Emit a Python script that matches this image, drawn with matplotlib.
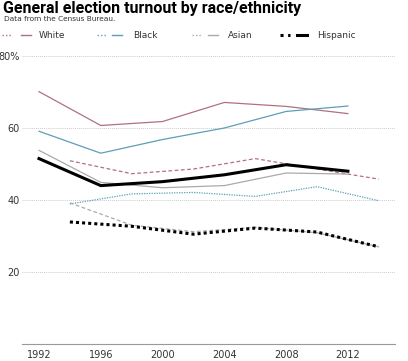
import matplotlib.pyplot as plt
from matplotlib.lines import Line2D

pres_years = [1992, 1996, 2000, 2004, 2008, 2012]
mid_years = [1994, 1998, 2002, 2006, 2010, 2014]

groups = ['White', 'Black', 'Asian', 'Hispanic']
colors = ['#b07080', '#5b9fb8', '#aaaaaa', '#000000']

pres = {
    'White': [70.1, 60.7, 61.8, 67.1, 66.0, 64.0],
    'Black': [59.1, 53.0, 56.8, 60.0, 64.6, 66.1],
    'Asian': [53.8, 44.9, 43.4, 44.0, 47.5, 47.2],
    'Hispanic': [51.5, 44.0, 45.1, 47.0, 49.8, 48.0],
}
mid = {
    'White': [50.9, 47.3, 48.6, 51.5, 48.6, 45.8],
    'Black': [38.9, 41.7, 42.1, 41.0, 43.7, 39.8],
    'Asian': [39.2, 33.0, 31.2, 32.4, 30.9, 27.0],
    'Hispanic': [33.9, 32.7, 30.5, 32.2, 31.1, 27.0],
}

yticks = [20, 40, 60, 80]
ylabels = ['20', '40', '60', '80%']
xticks = [1992, 1996, 2000, 2004, 2008, 2012]

fig = plt.figure(figsize=(4.08, 3.61), dpi=100)
ax = fig.add_axes([22/408, 17/361, 373/408, 288/361])

for g, c in zip(groups, colors):
    lw = 2.2 if g == 'Hispanic' else 0.9
    ls = (0, (1, 1)) if g in ('Black', 'Hispanic') else (0, (3, 2))
    ax.plot(mid_years, mid[g], color=c, lw=lw, ls=ls)
    ax.plot(pres_years, pres[g], color=c, lw=lw)

ax.set_xlim(1990.9, 2015.05)
ax.set_ylim(0, 80)
ax.set_yticks(yticks)
ax.set_yticklabels(ylabels)
ax.set_xticks(xticks)
ax.grid(axis='y', color='#cccccc', ls=(0, (1, 1)), lw=0.7)
ax.set_axisbelow(True)
for s in ['top', 'right', 'left']:
    ax.spines[s].set_visible(False)
ax.spines['bottom'].set_color('#999999')
ax.tick_params(axis='both', length=0, labelsize=7, colors='#333333')
ax.tick_params(axis='y', pad=1.5)
ax.tick_params(axis='x', pad=4)

fig.text(0.007, 0.997, 'General election turnout by race/ethnicity',
         fontsize=11.5, fontweight='bold', va='top', ha='left', family='Roboto')
fig.text(0.01, 1 - 16/361, 'Data from the Census Bureau.', fontsize=5.3,
         va='top', ha='left', color='#333333')

# legend: dotted handle, solid handle, label (pixel x positions)
leg_pos = [(2, 21, 39), (97, 112, 133), (192, 208, 228), (280, 297, 317)]
y = 1 - 35/361
for g, c, (xd, xs, xt) in zip(groups, colors, leg_pos):
    lw = 2.2 if g == 'Hispanic' else 1.0
    fig.add_artist(Line2D([xd/408, (xd+10)/408], [y, y], color=c, lw=lw,
                          ls=(0, (1, 1.5)), transform=fig.transFigure))
    fig.add_artist(Line2D([xs/408, (xs+10)/408], [y, y], color=c, lw=lw,
                          transform=fig.transFigure))
    fig.text(xt/408, y, g, fontsize=6.5, va='center', ha='left', color='#333333')

fig.savefig('out.png', dpi=100)
